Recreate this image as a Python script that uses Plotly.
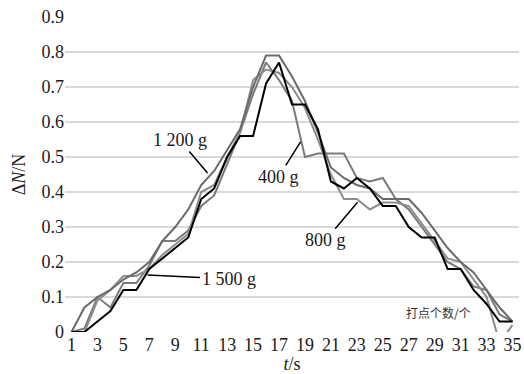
import plotly.graph_objects as go

t = list(range(1, 36))
tick_vals = list(range(1, 36, 2))
tick_text = [str(v) for v in tick_vals]
y_ticks = [0, 0.1, 0.2, 0.3, 0.4, 0.5, 0.6, 0.7, 0.8, 0.9]
y_text = ["0", "0.1", "0.2", "0.3", "0.4", "0.5", "0.6", "0.7", "0.8", "0.9"]

s400 = [0, 0.01, 0.10, 0.07, 0.14, 0.14, 0.19, 0.26, 0.26, 0.29, 0.36, 0.39, 0.48, 0.57, 0.68,
        0.77, 0.72, 0.66, 0.50, 0.51, 0.51, 0.51, 0.44, 0.43, 0.44, 0.38, 0.35, 0.30, 0.25, 0.20,
        0.18, 0.13, 0.12, 0.05, 0.03]
s800 = [0, 0.00, 0.09, 0.12, 0.16, 0.16, 0.18, 0.22, 0.25, 0.28, 0.40, 0.42, 0.50, 0.57, 0.72,
        0.75, 0.74, 0.70, 0.64, 0.55, 0.45, 0.38, 0.38, 0.35, 0.37, 0.37, 0.36, 0.31, 0.26, 0.21,
        0.20, 0.15, 0.10, -0.03, 0.02]
s1200 = [0, 0.07, 0.10, 0.12, 0.15, 0.17, 0.20, 0.26, 0.30, 0.35, 0.42, 0.46, 0.52, 0.58, 0.70,
         0.79, 0.79, 0.73, 0.66, 0.57, 0.47, 0.44, 0.42, 0.41, 0.38, 0.38, 0.38, 0.34, 0.29, 0.24,
         0.20, 0.17, 0.12, 0.07, 0.03]
s1500 = [0, 0, 0.03, 0.06, 0.12, 0.12, 0.18, 0.21, 0.24, 0.27, 0.38, 0.41, 0.50, 0.56, 0.56,
         0.71, 0.77, 0.65, 0.65, 0.58, 0.43, 0.41, 0.44, 0.41, 0.36, 0.36, 0.30, 0.27, 0.27, 0.18,
         0.18, 0.12, 0.08, 0.03, 0.03]

series = [("400 g", s400, "#7a7a7a"), ("800 g", s800, "#8c8c8c"),
          ("1 200 g", s1200, "#6a6a6a"), ("1 500 g", s1500, "#000000")]

fig = go.Figure()
for name, vals, col in series:
    fig.add_trace(go.Scatter(x=t, y=vals, mode="lines", name=name,
                             line=dict(color=col, width=2), cliponaxis=True))

font = dict(family="Liberation Serif, Times New Roman, serif", size=18, color="#1a1a1a")

ann = [
    dict(x=11.49, y=0.454, text="1 200 g", ax=-28, ay=-33),
    dict(x=18.66, y=0.543, text="400 g", ax=-22, ay=35),
    dict(x=23.05, y=0.371, text="800 g", ax=-32, ay=38),
    dict(x=6.86, y=0.163, text="1 500 g", ax=81, ay=4),
]
annotations = []
for a in ann:
    annotations.append(dict(x=a["x"], y=a["y"], xref="x", yref="y", text=a["text"],
                            showarrow=True, arrowhead=0, arrowwidth=1.5, arrowcolor="#000",
                            ax=a["ax"], ay=a["ay"], font=font, standoff=0, startstandoff=0))
annotations.append(dict(x=29.3, y=0.057, xref="x", yref="y", text="打点个数/个", showarrow=False,
                        font=dict(family="Noto Sans CJK SC", size=12, color="#333")))

fig.update_layout(
    width=524, height=374,
    margin=dict(l=65, r=5, t=17, b=42, autoexpand=False),
    plot_bgcolor="white", paper_bgcolor="white",
    showlegend=False,
    font=font,
    annotations=annotations,
    xaxis=dict(range=[0.5, 35.5], tickvals=tick_vals, ticktext=tick_text, showgrid=False,
               zeroline=False, showline=False, ticks="", tickfont=font, automargin=False,
               title=dict(text="<i>t</i>/s", font=font, standoff=0)),
    yaxis=dict(range=[0, 0.9], showgrid=True, gridcolor="#d9d9d9",
               gridwidth=1.5, zeroline=False, showline=False, ticks="", tickfont=font,
               tickvals=y_ticks, ticktext=y_text, automargin=False,
               title=dict(text="Δ<i>N</i>/N", font=font, standoff=11)),
)

fig.write_html("out.html", config={"displayModeBar": False},
               post_script="document.body.style.margin='0';document.body.style.overflow='hidden';")
